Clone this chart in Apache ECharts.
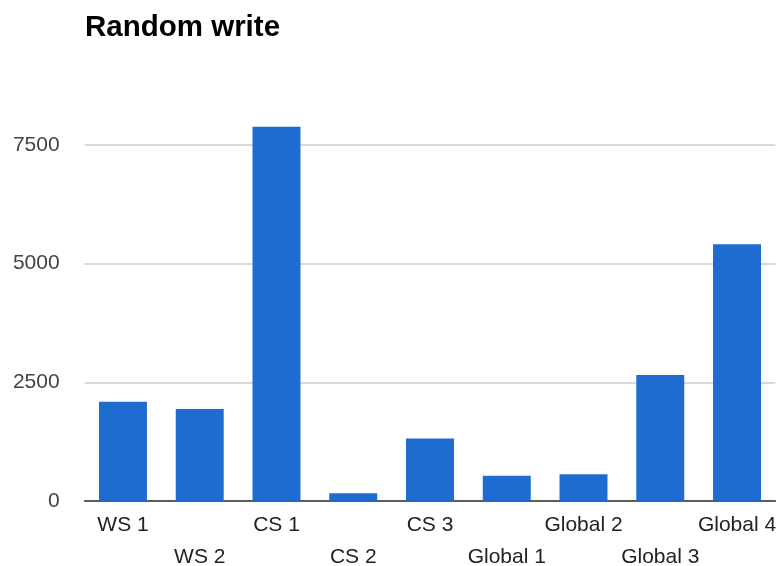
<!DOCTYPE html>
<html>
<head>
<meta charset="utf-8">
<title>Random write</title>
<script src="https://cdn.jsdelivr.net/npm/echarts@6/dist/echarts.min.js"></script>
<style>
  html, body { margin: 0; padding: 0; background: #fff; }
  #chart { width: 780px; height: 566px; }
</style>
</head>
<body>
<div id="chart"></div>
<script>
// Random write throughput per test machine
const categories = ['WS 1', 'WS 2', 'CS 1', 'CS 2', 'CS 3', 'Global 1', 'Global 2', 'Global 3', 'Global 4'];
const writeValues = [2090, 1940, 7885, 165, 1315, 530, 565, 2655, 5410];
const yTicks = [0, 2500, 5000, 7500];

const FONT = '"Liberation Sans", Arial, sans-serif';

const chart = echarts.init(document.getElementById('chart'), null, { renderer: 'canvas' });

chart.setOption({
  animation: false,
  backgroundColor: '#ffffff',
  title: {
    text: 'Random write',
    left: 80,
    top: 8,
    textStyle: { fontFamily: FONT, fontSize: 29.5, fontWeight: 'bold', color: '#000' }
  },
  grid: { left: 84.6, right: 4.6, top: 121.3, bottom: 65, outerBoundsMode: 'none', containLabel: false },
  xAxis: {
    type: 'category',
    data: categories,
    axisTick: { show: false },
    axisLine: { lineStyle: { color: '#333', width: 1.5 } },
    axisLabel: {
      interval: 0,
      margin: 8,
      fontFamily: FONT,
      fontSize: 21,
      lineHeight: 32,
      color: '#222',
      // alternate labels drop to a second row
      formatter: (value, idx) => (idx % 2 === 1 ? '\n' + value : value)
    }
  },
  yAxis: {
    type: 'value',
    min: yTicks[0],
    max: 8000,
    interval: yTicks[1] - yTicks[0],
    axisLine: { show: false },
    axisTick: { show: false },
    splitLine: { showMaxLine: false, lineStyle: { color: '#cccccc', width: 1.5 } },
    axisLabel: {
      showMaxLabel: false,
      margin: 25,
      fontFamily: FONT,
      fontSize: 21,
      color: '#444',
      formatter: (v) => String(v)
    }
  },
  series: [{
    type: 'bar',
    data: writeValues,
    barCategoryGap: '37.5%',
    itemStyle: { color: '#1e6ccf' }
  }]
});
</script>
</body>
</html>
